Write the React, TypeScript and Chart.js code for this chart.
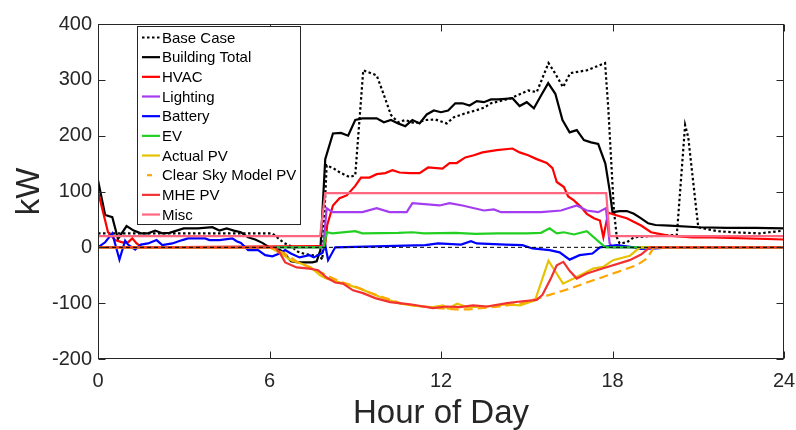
import React, { useEffect, useRef } from 'react';
import { Chart, registerables } from 'chart.js';

Chart.register(...registerables);

// ---- data (hour of day, kW) ----
const xTicks = [0, 6, 12, 18, 24];
const yTicks = [-200, -100, 0, 100, 200, 300, 400];

const baseH = [0, 6.1, 6.5, 6.75, 7.0, 7.25, 7.5, 7.75, 7.85, 8.0, 8.25, 8.5, 8.8, 9.0, 9.28, 9.75, 9.98, 10.25, 10.5, 10.75, 11.1, 11.45, 11.8, 12.2, 12.45, 12.85, 13.2, 13.5, 13.75, 14.45, 15.05, 15.35, 15.76, 15.93, 16.27, 16.52, 17.1, 17.74, 17.85, 18.05, 18.15, 18.25, 18.5, 18.75, 19.3, 20.25, 20.54, 20.65, 21.0, 21.65, 22.2, 23.15, 23.5, 24];
const baseKW = [25, 25, 8, 2, -8, -12, -14, -15, -22, 147, 141, 133, 126, 129, 317, 308, 276, 237, 224, 228, 222, 228, 229, 222, 233, 240, 245, 250, 258, 267, 281, 278, 330, 317, 287, 312, 317, 330, 251, 66, 18, 7, 9, 18, 20, 22, 219, 197, 36, 29, 27, 25, 27, 30];

const totalH = [0, 0.25, 0.5, 0.7, 1.0, 1.25, 1.5, 1.75, 2.0, 2.25, 2.5, 3.0, 3.5, 4.0, 4.25, 4.5, 4.75, 5.0, 5.25, 5.5, 5.75, 6.0, 6.25, 6.5, 6.75, 7.0, 7.5, 7.65, 7.78, 7.95, 8.22, 8.5, 8.75, 9.0, 9.25, 9.5, 9.75, 10.0, 10.25, 10.5, 10.75, 11.0, 11.25, 11.5, 11.75, 12.0, 12.25, 12.5, 12.75, 13.0, 13.25, 13.5, 13.75, 14.0, 14.25, 14.5, 14.75, 15.0, 15.25, 15.5, 15.75, 16.0, 16.25, 16.5, 16.75, 17.0, 17.25, 17.5, 17.75, 17.9, 18.0, 18.25, 18.5, 18.75, 19.0, 19.25, 19.5, 20, 21, 22, 23, 24];
const totalKW = [120, 58, 54, 15, 38, 30, 25, 25, 30, 25, 26, 34, 34, 36, 30, 34, 30, 27, 18, 14, 8, 0, 0, -10, -25, -27, -27, -25, -5, 158, 204, 205, 200, 228, 231, 231, 231, 224, 228, 222, 217, 228, 222, 238, 245, 242, 245, 258, 258, 254, 262, 260, 265, 265, 266, 267, 253, 260, 249, 272, 294, 275, 228, 206, 210, 192, 188, 185, 150, 102, 63, 65, 65, 60, 52, 43, 40, 39, 36, 35, 35, 34];

const hvacH = [0, 0.25, 0.35, 0.6, 0.85, 1.05, 1.2, 1.35, 1.55, 7.8, 7.95, 8.02, 8.22, 8.45, 8.7, 9.0, 9.2, 9.5, 9.75, 10.05, 10.3, 10.55, 10.9, 11.25, 11.55, 12.05, 12.3, 12.55, 12.85, 13.15, 13.45, 13.95, 14.5, 14.75, 15.05, 15.35, 15.7, 15.9, 16.05, 16.3, 16.45, 16.65, 16.9, 17.1, 17.35, 17.56, 17.68, 17.85, 18.1, 18.5, 19.0, 19.35, 19.95, 20.8, 21.5, 24];
const hvacKW = [100, 48, 27, 13, 9, 9, 16, 7, 0, 2, 5, 40, 75, 88, 93, 110, 125, 125, 131, 133, 138, 134, 133, 133, 143, 141, 151, 151, 161, 165, 170, 174, 177, 170, 165, 158, 151, 142, 117, 108, 91, 84, 72, 60, 52, 48, 18, 62, 58, 52, 39, 27, 21, 18, 18, 14];

const lightH = [0, 7.88, 8.0, 8.2, 9.25, 9.75, 10.2, 10.55, 10.8, 11.0, 11.95, 12.3, 12.75, 13.5, 13.85, 14.1, 15.5, 16.2, 16.75, 17.1, 17.5, 17.77, 17.9, 18.0, 24];
const lightKW = [0, 0, 70, 63, 63, 70, 63, 63, 63, 79, 75, 79, 75, 66, 68, 63, 63, 66, 75, 66, 63, 70, 7, 0, 0];

const battH = [0, 0.25, 0.5, 0.75, 0.95, 1.05, 1.3, 1.5, 1.75, 2.05, 2.25, 2.6, 2.95, 3.15, 3.75, 3.9, 4.25, 4.7, 4.85, 5.0, 5.25, 5.6, 5.85, 6.1, 6.35, 6.55, 6.75, 7.05, 7.4, 7.55, 7.85, 7.95, 8.05, 8.3, 11.45, 11.9, 12.7, 13.05, 13.25, 14.25, 14.85, 15.2, 15.8, 16.15, 16.5, 16.85, 17.3, 17.56, 18.15, 18.75, 19.0, 19.5, 20, 24];
const battKW = [0, 9, 25, -22, 12, 5, -4, 5, 7, 13, 4, 7, 13, 16, 16, 13, 13, 16, 11, 8, -5, -5, -14, -16, -11, -5, -11, -18, -14, -18, -10, 4, -23, 0, 4, 7, 5, 11, 7, 5, 4, -2, -5, -9, -22, -14, -11, 0, 4, 0, -3, -2, 0, 0];

const evH = [0, 7.9, 8.0, 8.2, 9.0, 9.25, 10.5, 11.0, 11.4, 12.5, 13.2, 14.0, 15.0, 15.5, 15.8, 16.05, 16.3, 16.65, 17.1, 17.75, 24];
const evKW = [0, 0, 27, 25, 29, 25, 26, 27, 25, 26, 24, 25, 25, 26, 34, 25, 27, 23, 29, 0, 0];

const actualH = [0, 6.0, 6.4, 6.75, 7.1, 7.45, 7.77, 8.0, 8.47, 9.17, 9.87, 10.57, 11.27, 11.72, 12.07, 12.25, 12.56, 12.91, 13.61, 14.31, 14.77, 15.29, 15.76, 16.27, 16.75, 17.32, 17.67, 18.02, 18.61, 18.96, 24];
const actualKW = [0, 0, -11, -23, -29, -36, -50, -56, -63, -74, -89, -101, -106, -107, -104, -110, -101, -107, -106, -102, -104, -95, -24, -65, -53, -38, -35, -23, -15, 0, 0];

const clearH = [0, 6.0, 6.5, 7.0, 7.5, 8.0, 8.5, 9.0, 9.5, 10.0, 10.7, 11.7, 12.5, 13.0, 13.6, 14.2, 14.8, 15.35, 16.0, 16.5, 17.1, 17.67, 18.3, 18.85, 19.2, 19.45, 24];
const clearKW = [0, 0, -10, -27, -38, -50, -62, -70, -81, -90, -102, -108, -111, -111, -108, -105, -100, -92, -82, -74, -63, -53, -42, -32, -20, 0, 0];

const mheH = [0, 6.2, 6.37, 6.55, 6.95, 7.4, 7.7, 8.0, 8.3, 8.57, 8.92, 9.27, 9.7, 10.22, 10.92, 11.72, 12.2, 12.66, 13.12, 13.61, 14.31, 14.77, 15.35, 15.55, 15.85, 16.05, 16.28, 16.5, 16.75, 17.1, 17.65, 18.6, 19.0, 19.3, 24];
const mheKW = [0, 0, -11, -27, -36, -38, -41, -54, -63, -65, -77, -82, -91, -98, -102, -109, -106, -107, -104, -106, -100, -97, -94, -85, -55, -32, -26, -42, -56, -47, -38, -23, -13, 0, 0];

const miscH = [0, 7.77, 7.95, 17.78, 17.9, 24];
const miscKW = [20, 20, 97, 97, 20, 20];

const zeroH = [0, 24];
const zeroKW = [0, 0];

const seriesNames = ['Base Case', 'Building Total', 'HVAC', 'Lighting', 'Battery', 'EV', 'Actual PV', 'Clear Sky Model PV', 'MHE PV', 'Misc'];

const FONT = "'Liberation Sans', Arial, Helvetica, sans-serif";
const TEXT = '#262626';

const pts = (h: number[], v: number[]) => h.map((x, i) => ({ x, y: v[i] }));

type S = { label: string; h: number[]; v: number[]; color: string; dash: number[]; width: number };
const series: S[] = [
  { label: seriesNames[0], h: baseH, v: baseKW, color: '#000000', dash: [2.5, 2.5], width: 2.2 },
  { label: seriesNames[1], h: totalH, v: totalKW, color: '#000000', dash: [], width: 2.2 },
  { label: seriesNames[2], h: hvacH, v: hvacKW, color: '#ff0000', dash: [], width: 2.2 },
  { label: seriesNames[3], h: lightH, v: lightKW, color: '#a43cf0', dash: [], width: 2.2 },
  { label: seriesNames[4], h: battH, v: battKW, color: '#0000ff', dash: [], width: 2.2 },
  { label: seriesNames[5], h: evH, v: evKW, color: '#22d022', dash: [], width: 2.2 },
  { label: seriesNames[6], h: actualH, v: actualKW, color: '#e6c300', dash: [], width: 2.2 },
  { label: seriesNames[7], h: clearH, v: clearKW, color: '#ffa500', dash: [9, 5], width: 2.2 },
  { label: seriesNames[8], h: mheH, v: mheKW, color: '#f23232', dash: [], width: 2.2 },
  { label: seriesNames[9], h: miscH, v: miscKW, color: '#ff6680', dash: [], width: 2.2 },
];

const framePlugin = {
  id: 'frame',
  afterDraw(chart: any) {
    const { ctx, chartArea: a, scales } = chart;
    ctx.save();
    ctx.strokeStyle = TEXT;
    ctx.lineWidth = 1;
    const L = Math.round(a.left) + 0.5;
    const R = Math.round(a.right) - 0.5;
    const T = Math.round(a.top) + 0.5;
    const B = Math.round(a.bottom) - 0.5;
    ctx.strokeRect(L, T, R - L, B - T);
    const tl = 7;
    ctx.beginPath();
    xTicks.forEach((v) => {
      const px = Math.round(scales.x.getPixelForValue(v)) + 0.5;
      ctx.moveTo(px, B); ctx.lineTo(px, B - tl);
      ctx.moveTo(px, T); ctx.lineTo(px, T + tl);
    });
    yTicks.forEach((v) => {
      const py = Math.round(scales.y.getPixelForValue(v)) + 0.5;
      ctx.moveTo(L, py); ctx.lineTo(L + tl, py);
      ctx.moveTo(R, py); ctx.lineTo(R - tl, py);
    });
    ctx.stroke();
    ctx.restore();
  },
};

const legendPlugin = {
  id: 'boxLegend',
  afterDraw(chart: any) {
    const { ctx } = chart;
    const x0 = 137.5, y0 = 26.5, w = 163, h = 198;
    ctx.save();
    ctx.fillStyle = '#ffffff';
    ctx.fillRect(x0, y0, w, h);
    ctx.strokeStyle = TEXT;
    ctx.lineWidth = 1;
    ctx.strokeRect(x0, y0, w, h);
    ctx.font = `15px ${FONT}`;
    ctx.textBaseline = 'middle';
    ctx.textAlign = 'left';
    series.forEach((s, i) => {
      const y = 37.5 + i * 19.67;
      ctx.strokeStyle = s.color;
      ctx.lineWidth = s.width;
      ctx.setLineDash(s.dash);
      ctx.beginPath();
      if (s.dash.length && s.dash[0] > 5) {
        ctx.setLineDash([]);
        ctx.moveTo(147, y); ctx.lineTo(152, y);
      } else {
        ctx.moveTo(142, y); ctx.lineTo(160, y);
      }
      ctx.stroke();
      ctx.setLineDash([]);
      ctx.fillStyle = '#000000';
      ctx.fillText(s.label, 162, y + 1);
    });
    ctx.restore();
  },
};

export default function App() {
  const ref = useRef<HTMLCanvasElement>(null);
  useEffect(() => {
    document.body.style.margin = '0';
    Chart.defaults.font.family = FONT;
    const datasets: any[] = series.map((s, i) => ({
      label: s.label,
      data: pts(s.h, s.v),
      borderColor: s.color,
      backgroundColor: s.color,
      borderWidth: s.width,
      borderDash: s.dash,
      pointRadius: 0,
      tension: 0,
      fill: false,
      order: -i,
    }));
    datasets.push({
      label: 'zero',
      data: pts(zeroH, zeroKW),
      borderColor: '#000000',
      borderWidth: 1,
      borderDash: [4, 3],
      pointRadius: 0,
      fill: false,
      order: -100,
    });
    const chart = new Chart(ref.current as HTMLCanvasElement, {
      type: 'line',
      data: { datasets },
      options: {
        animation: false,
        responsive: false,
        events: [],
        layout: { padding: { left: 0, right: 12, top: 24, bottom: 0 } },
        scales: {
          x: {
            type: 'linear',
            min: 0,
            max: 24,
            afterBuildTicks: (s: any) => { s.ticks = xTicks.map((v) => ({ value: v })); },
            ticks: { color: TEXT, font: { size: 20, family: FONT }, padding: 10, maxRotation: 0, autoSkip: false },
            grid: { display: false, drawTicks: false },
            border: { display: false },
            title: { display: true, text: 'Hour of Day', color: TEXT, font: { size: 33, family: FONT }, padding: { top: 0, bottom: -4 } },
            afterFit: (s: any) => { s.height = 71; s.paddingLeft = 0; s.paddingRight = 0; },
          },
          y: {
            type: 'linear',
            min: -200,
            max: 400,
            afterBuildTicks: (s: any) => { s.ticks = yTicks.map((v) => ({ value: v })); },
            ticks: { color: TEXT, font: { size: 20, family: FONT }, padding: 6, autoSkip: false },
            grid: { display: false, drawTicks: false },
            border: { display: false },
            title: { display: true, text: 'kW', color: TEXT, font: { size: 33, family: FONT }, padding: { top: 10, bottom: 0 } },
            afterFit: (s: any) => { s.width = 98; s.paddingTop = 0; s.paddingBottom = 0; },
          },
        },
        plugins: { legend: { display: false }, tooltip: { enabled: false } },
      },
      plugins: [framePlugin, legendPlugin],
    });
    return () => chart.destroy();
  }, []);
  return (
    <div style={{ width: 796, height: 430 }}>
      <canvas ref={ref} width={796} height={430} style={{ display: 'block' }} />
    </div>
  );
}
